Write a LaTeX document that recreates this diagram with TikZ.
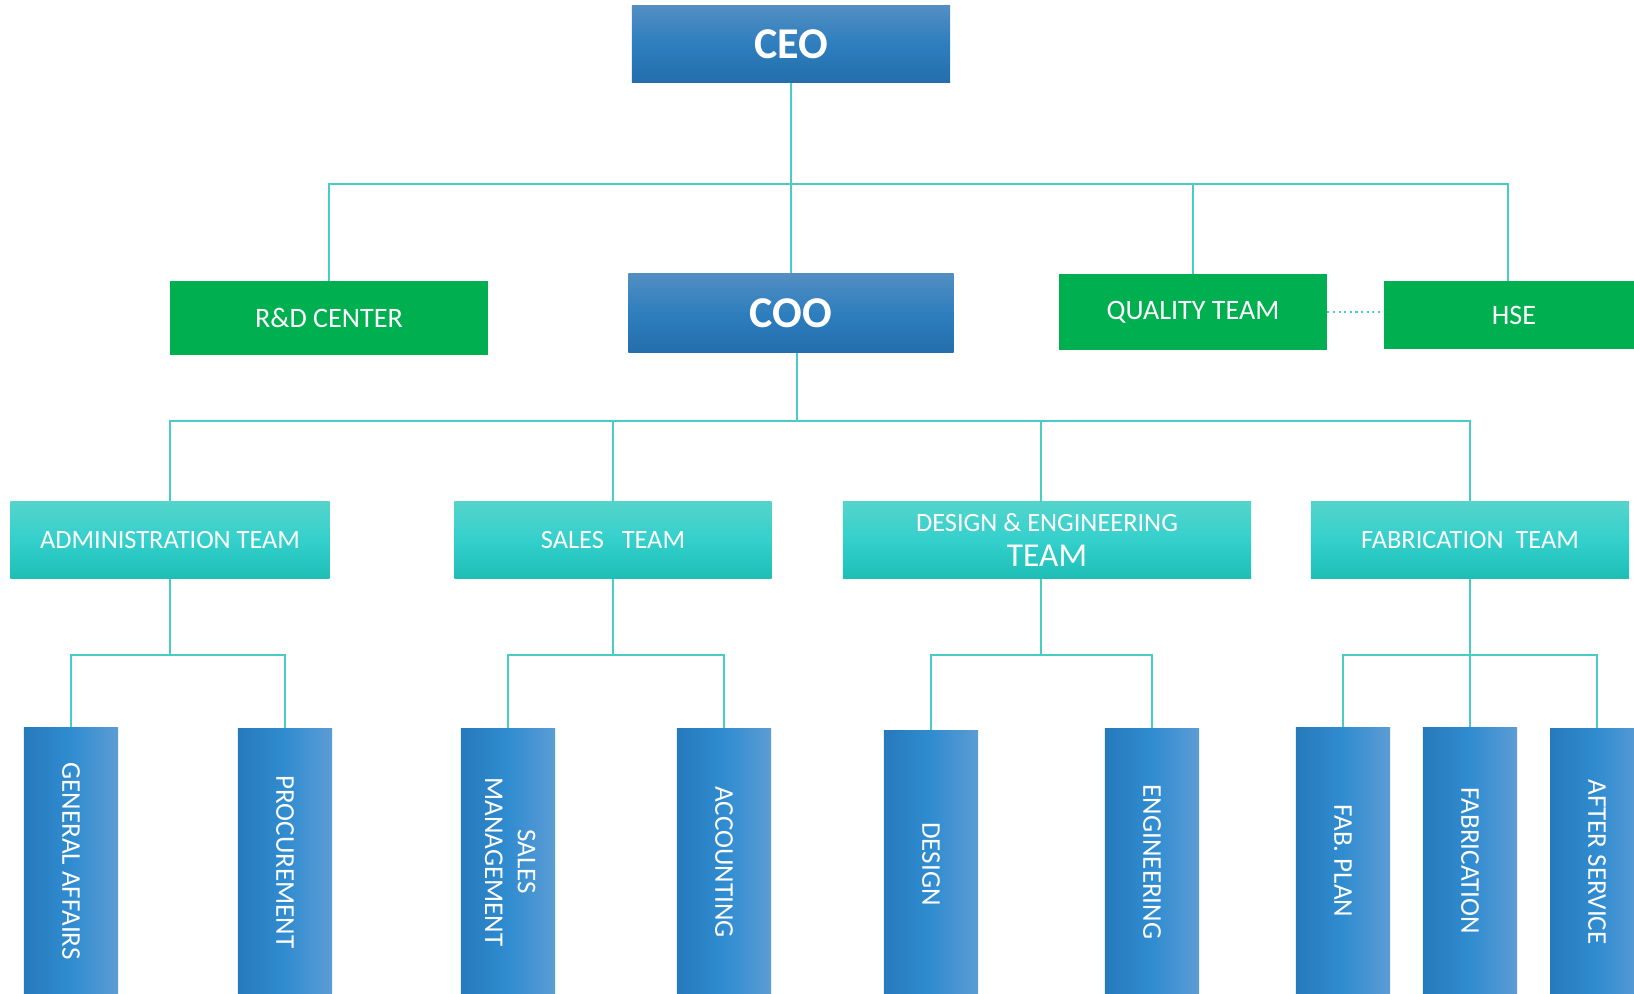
\documentclass[tikz,border=0pt]{standalone}
\usepackage{fontspec}
\setmainfont{Carlito}
\usepackage{graphicx}
\usetikzlibrary{positioning}

\definecolor{headtop}{RGB}{82,142,194}
\definecolor{headmid}{RGB}{46,126,190}
\definecolor{headbot}{RGB}{36,110,172}
\definecolor{staffgreen}{RGB}{0,176,80}
\definecolor{teamtop}{RGB}{84,212,204}
\definecolor{teammid}{RGB}{52,208,204}
\definecolor{teambot}{RGB}{30,190,182}
\definecolor{unitleft}{RGB}{38,122,188}
\definecolor{unitmid}{RGB}{48,140,208}
\definecolor{unitright}{RGB}{92,156,212}
\definecolor{linkteal}{RGB}{72,204,196}

\begin{document}
\begin{tikzpicture}[x=0.01cm, y=-0.01cm,
    box/.style={inner sep=0pt, text=white, align=center},
    head/.style={box, top color=headtop, bottom color=headbot, middle color=headmid, font=\fontsize{12.5}{15}\selectfont\bfseries},
    staff/.style={box, fill=staffgreen, font=\fontsize{8}{10}\selectfont},
    team/.style={box, top color=teamtop, bottom color=teambot, middle color=teammid, minimum height=0.76cm, font=\fontsize{7.5}{9}\selectfont},
    unit/.style={box, left color=unitleft, right color=unitright, middle color=unitmid, minimum width=0.94cm, minimum height=2.66cm, font=\fontsize{7.7}{9.3}\selectfont},
    link/.style={draw=linkteal, line width=0.6pt}]
  \path[use as bounding box, fill=white] (0,0) rectangle (1634,993);

  \node[head, minimum width=3.18cm, minimum height=0.76cm] (ceo) at (791,44) {CEO};
  \node[head, minimum width=3.25cm, minimum height=0.78cm] (coo) at (791,313) {COO};
  \node[staff, minimum width=3.18cm, minimum height=0.73cm] (rnd) at (329,318) {R\&D CENTER};
  \node[staff, minimum width=2.67cm, minimum height=0.75cm] (quality) at (1193,312) {QUALITY TEAM};
  \node[staff, minimum width=2.60cm, minimum height=0.68cm] (hse) at (1514,315) {HSE};

  \node[team, minimum width=3.19cm] (admin) at (170,540) {ADMINISTRATION TEAM};
  \node[team, minimum width=3.17cm] (sales) at (613,540) {SALES\ \ \ TEAM};
  \node[team, minimum width=4.08cm] (deseng) at (1047,540) {DESIGN \& ENGINEERING\\[1pt]{\fontsize{9.5}{11}\selectfont TEAM}};
  \node[team, minimum width=3.18cm] (fab) at (1470,540) {FABRICATION\ \ TEAM};

  \node[unit] (genaff) at (71,861) {\rotatebox{-90}{GENERAL AFFAIRS}};
  \node[unit] (procure) at (285,862) {\rotatebox{-90}{PROCUREMENT}};
  \node[unit] (salesmgmt) at (508,862) {\rotatebox{-90}{\begin{tabular}{@{}c@{}}SALES\\MANAGEMENT\end{tabular}}};
  \node[unit] (account) at (724,862) {\rotatebox{-90}{ACCOUNTING}};
  \node[unit] (design) at (931,864) {\rotatebox{-90}{DESIGN}};
  \node[unit] (engineer) at (1152,862) {\rotatebox{-90}{ENGINEERING}};
  \node[unit] (fabplan) at (1343,861) {\rotatebox{-90}{FAB.\ PLAN}};
  \node[unit] (fabric) at (1470,861) {\rotatebox{-90}{FABRICATION}};
  \node[unit] (aftersvc) at (1597,862) {\rotatebox{-90}{AFTER SERVICE}};

  \coordinate (bus1) at (791,184);
  \coordinate (bus2) at (797,421);
  \coordinate (bus3) at (0,655);
  \coordinate (hsetop) at (1508,281);
  \coordinate (desengtop) at (1041,502);

  \draw[link] (ceo) -- (coo);
  \draw[link] (rnd.north) |- (bus1) -| (hsetop);
  \draw[link] (quality.north) -- (quality.north |- bus1);
  \draw[link, densely dotted, line width=0.5pt] (quality.east) -- (quality.east -| hse.west);
  \draw[link] (coo.south -| bus2) -- (bus2);
  \draw[link] (admin.north) |- (bus2) -| (fab.north);
  \draw[link] (sales.north) -- (sales.north |- bus2);
  \draw[link] (desengtop) -- (desengtop |- bus2);

  \draw[link] (admin.south) -- (admin.south |- bus3);
  \draw[link] (genaff.north) |- (procure.north |- bus3) -- (procure.north);
  \draw[link] (sales.south) -- (sales.south |- bus3);
  \draw[link] (salesmgmt.north) |- (account.north |- bus3) -- (account.north);
  \draw[link] (deseng.south -| desengtop) -- (desengtop |- bus3);
  \draw[link] (design.north) |- (engineer.north |- bus3) -- (engineer.north);
  \draw[link] (fab.south) -- (fabric.north);
  \draw[link] (fabplan.north) |- (aftersvc.north |- bus3) -- (aftersvc.north);
\end{tikzpicture}
\end{document}
